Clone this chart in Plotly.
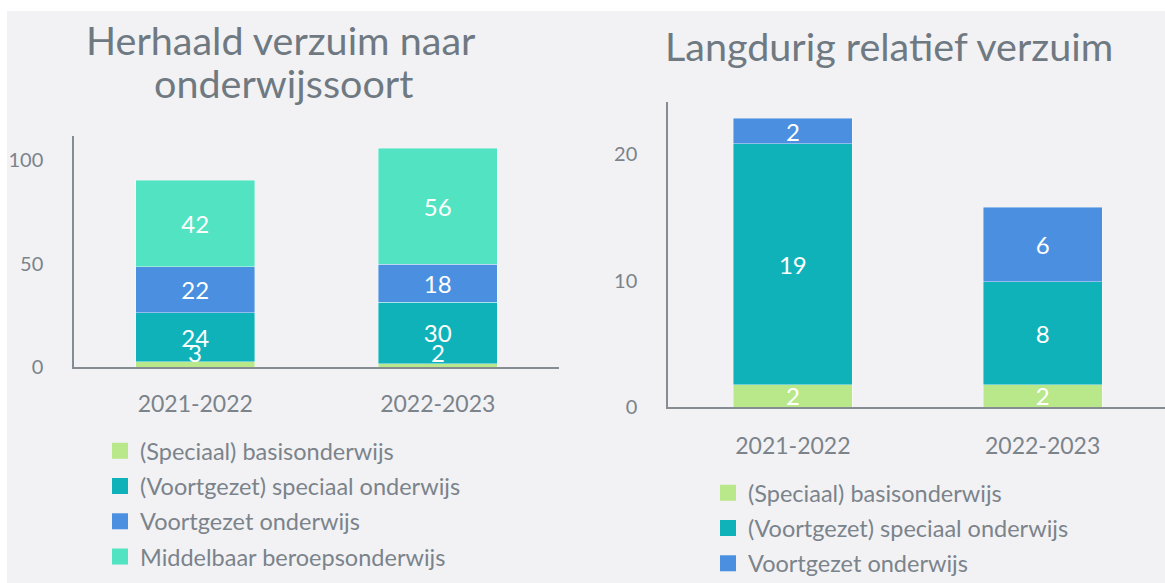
import plotly.graph_objects as go

W, H = 1165, 583

# ---------------- data ----------------
years = ["2021-2022", "2022-2023"]

left_series = ["(Speciaal) basisonderwijs", "(Voortgezet) speciaal onderwijs",
               "Voortgezet onderwijs", "Middelbaar beroepsonderwijs"]
left_basis = [2.6, 1.6]
left_vso = [23.8, 29.9]
left_vo = [22.1, 18.2]
left_mbo = [41.7, 56.1]

right_series = ["(Speciaal) basisonderwijs", "(Voortgezet) speciaal onderwijs",
                "Voortgezet onderwijs"]
right_basis = [1.8, 1.8]
right_vso = [19.0, 8.1]
right_vo = [2.0, 5.9]

left_ticks = [0, 50, 100]
right_ticks = [0, 10, 20]

colors = ["#b9e88a", "#10b2ba", "#4a8fe0", "#51e3c2"]

FONT = "Lato"
TICK_COL = "#7b838b"
TITLE_COL = "#6f7982"
BG = "#f2f2f4"
LBL = 24

def px_x(v):
    return v / W

def px_y(v):
    return 1 - v / H

fig = go.Figure()

left_vals = [left_basis, left_vso, left_vo, left_mbo]
for i, (name, vals) in enumerate(zip(left_series, left_vals)):
    fig.add_trace(go.Bar(
        x=years, y=vals, name=name,
        marker=dict(color=colors[i], line=dict(color="rgba(255,255,255,0.5)", width=0.8)),
        texttemplate=None if i == 0 else "%{y:.0f}", textposition="inside", textangle=0,
        insidetextanchor="middle", constraintext="none",
        textfont=dict(family=FONT, size=LBL, color="white"),
        xaxis="x", yaxis="y", showlegend=False, width=0.49, hoverinfo="skip"))

right_vals = [right_basis, right_vso, right_vo]
for i, (name, vals) in enumerate(zip(right_series, right_vals)):
    fig.add_trace(go.Bar(
        x=years, y=vals, name=name,
        marker=dict(color=colors[i], line=dict(color="rgba(255,255,255,0.5)", width=0.8)),
        texttemplate="%{y:.0f}", textposition="inside", textangle=0,
        insidetextanchor="middle", constraintext="none",
        textfont=dict(family=FONT, size=LBL, color="white"),
        xaxis="x2", yaxis="y2", showlegend=False, width=0.476, hoverinfo="skip"))

# legend entries (square swatches)
for i, name in enumerate(left_series):
    fig.add_trace(go.Scatter(x=[None], y=[None], mode="markers", name=name,
                             marker=dict(symbol="square", size=24, color=colors[i]),
                             legend="legend", legendgroup="l%d" % i,
                             xaxis="x", yaxis="y"))
for i, name in enumerate(right_series):
    fig.add_trace(go.Scatter(x=[None], y=[None], mode="markers", name=name,
                             marker=dict(symbol="square", size=24, color=colors[i]),
                             legend="legend2", legendgroup="r%d" % i,
                             xaxis="x2", yaxis="y2"))

axis_common = dict(showgrid=False, zeroline=False, showline=True, automargin=False,
                   linecolor="#858c93", linewidth=1.5, ticks="")
xtick_font = dict(family=FONT, size=23, color=TICK_COL)
ytick_font = dict(family=FONT, size=20, color=TICK_COL)

# labels for the tiny bottom segments of the left chart (placed from the data)
small_labels = [dict(x=years[j], y=0, xref="x", yref="y", text="%.0f" % v,
                     xanchor="center", yanchor="bottom", showarrow=False, yshift=-2,
                     font=dict(family=FONT, size=LBL, color="white"))
                for j, v in enumerate(left_basis)]

legend_font = dict(family=FONT, size=23.5, color=TICK_COL)
TFONT = dict(family=FONT, size=39.5, color=TITLE_COL)

fig.update_layout(
    width=W, height=H, barmode="stack",
    margin=dict(l=0, r=0, t=0, b=0, autoexpand=False),
    paper_bgcolor=BG, plot_bgcolor=BG,
    font=dict(family=FONT, color=TICK_COL),
    xaxis=dict(domain=[px_x(74), px_x(559)], anchor="y", range=[-0.5, 1.5],
               ticklabelstandoff=15, tickfont=xtick_font, **axis_common),
    yaxis=dict(domain=[px_y(367.3), px_y(136)], anchor="x", range=[0, 111.6],
               tickvals=left_ticks, ticklabelstandoff=25, tickfont=ytick_font, **axis_common),
    xaxis2=dict(domain=[px_x(668), 1.0], anchor="y2", range=[-0.5, 1.49],
                ticklabelstandoff=17, tickfont=xtick_font, **axis_common),
    yaxis2=dict(domain=[px_y(407.3), px_y(102)], anchor="x2", range=[0, 24.1],
                tickvals=right_ticks, ticklabelstandoff=25, tickfont=ytick_font, **axis_common),
    legend=dict(x=px_x(100), y=px_y(429), xanchor="left", yanchor="top",
                font=legend_font, bgcolor="rgba(0,0,0,0)", tracegroupgap=1.7,
                itemclick=False),
    legend2=dict(x=px_x(708), y=px_y(471), xanchor="left", yanchor="top",
                 font=legend_font, bgcolor="rgba(0,0,0,0)", tracegroupgap=1.7,
                 itemclick=False),
    annotations=[
        dict(text="Herhaald verzuim naar", x=px_x(281), y=px_y(14),
             xref="paper", yref="paper", xanchor="center", yanchor="top",
             showarrow=False, font=TFONT),
        dict(text="onderwijssoort", x=px_x(283), y=px_y(57),
             xref="paper", yref="paper", xanchor="center", yanchor="top",
             showarrow=False, font=TFONT),
        dict(text="Langdurig relatief verzuim", x=px_x(889), y=px_y(20),
             xref="paper", yref="paper", xanchor="center", yanchor="top",
             showarrow=False, font=TFONT),
    ] + small_labels,
    shapes=[
        dict(type="rect", xref="paper", yref="paper", x0=0, x1=1, y0=px_y(11), y1=1,
             fillcolor="white", line=dict(width=0), layer="below"),
        dict(type="rect", xref="paper", yref="paper", x0=0, x1=px_x(7), y0=0, y1=1,
             fillcolor="white", line=dict(width=0), layer="below"),
    ],
)

fig.write_html("out.html", config={"displayModeBar": False},
               post_script="document.body.style.margin='0px';")
